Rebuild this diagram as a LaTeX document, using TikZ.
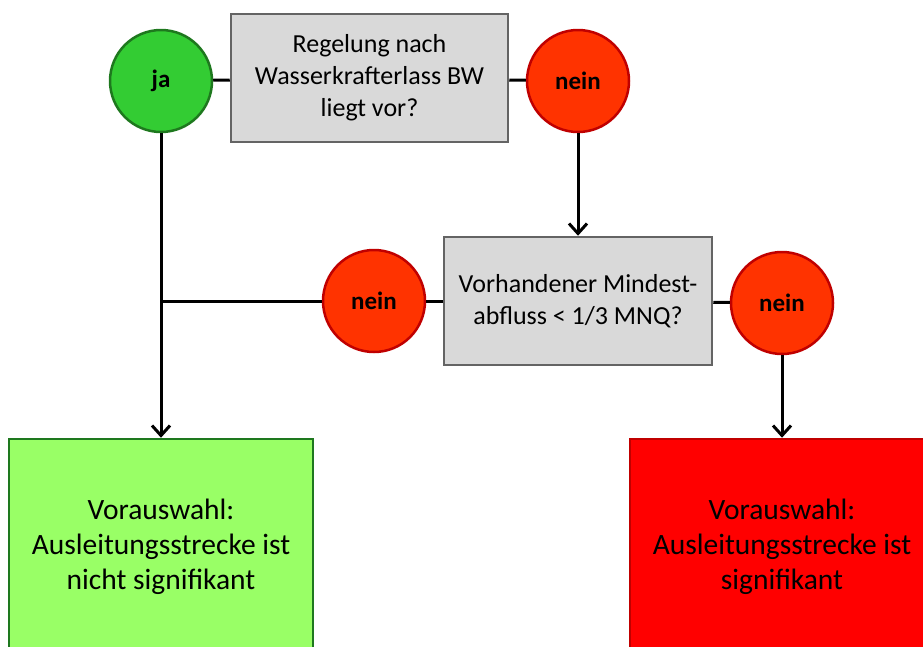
\documentclass[tikz,border=0pt]{standalone}
\usepackage{fontspec}
\setmainfont{Carlito}
\definecolor{boxgray}{RGB}{217, 217, 217}
\definecolor{framegray}{RGB}{100, 100, 100}
\definecolor{jagreen}{RGB}{51, 204, 51}
\definecolor{darkgreen}{RGB}{30, 120, 30}
\definecolor{neinred}{RGB}{255, 51, 0}
\definecolor{darkred}{RGB}{192, 0, 0}
\definecolor{okgreen}{RGB}{153, 255, 102}
\definecolor{sigred}{RGB}{255, 0, 0}
\usetikzlibrary{arrows.meta, positioning, calc}

\begin{document}
\begin{tikzpicture}[x=1pt, y=1pt,
  qbox/.style={draw=framegray, fill=boxgray, line width=2.5pt, minimum height=128pt, align=center, inner sep=0pt, font=\fontsize{26}{32}\selectfont},
  yesnode/.style={circle, draw=darkgreen, fill=jagreen, line width=2.5pt, minimum size=102pt, inner sep=0pt, font=\fontsize{25}{30}\selectfont\bfseries},
  nonode/.style={circle, draw=darkred, fill=neinred, line width=2.5pt, minimum size=102pt, inner sep=0pt, font=\fontsize{25}{30}\selectfont\bfseries},
  resbox/.style={line width=2.5pt, minimum width=304pt, minimum height=216pt, align=center, inner sep=0pt, font=\fontsize{29.5}{35}\selectfont},
  link/.style={line width=3pt},
  arr/.style={line width=3pt, -{Straight Barb[length=10pt, width=18pt, line width=3pt]}}
]
  \useasboundingbox (0,0) rectangle (923,-646);
  \clip (0,0) rectangle (923,-646);

  % first question
  \node[qbox, minimum width=277pt] (q1) at (369.5,-78) {Regelung nach\\Wasserkrafterlass BW\\liegt vor?};
  \node[yesnode] (ja1) at (161,-81) {ja};
  \node[nonode] (nein1) at (578,-81) {nein};

  % second question
  \node[qbox, minimum width=268pt] (q2) at (578,-301) {Vorhandener Mindest-\\abfluss < 1/3 MNQ?};
  \node[nonode] (nein2) at (374,-301) {nein};
  \node[nonode] (nein3) at (782,-303) {nein};

  % results
  \node[resbox, draw=darkgreen, fill=okgreen] (res1) at (161,-547) {Vorauswahl:\\Ausleitungsstrecke ist\\nicht signifikant};
  \node[resbox, draw=darkred, fill=sigred] (res2) at (782,-547) {Vorauswahl:\\Ausleitungsstrecke ist\\signifikant};

  \draw[link] (ja1) -- (q1);
  \draw[link] (q1) -- (nein1);
  \draw[arr] (nein1) -- (q2);
  \draw[link] (nein2) -- (q2);
  \draw[link] (q2) -- (nein3);
  \draw[link] (nein2) -- (nein2 -| ja1);
  \draw[arr] (ja1) -- (res1);
  \draw[arr] (nein3) -- (res2);
\end{tikzpicture}
\end{document}
